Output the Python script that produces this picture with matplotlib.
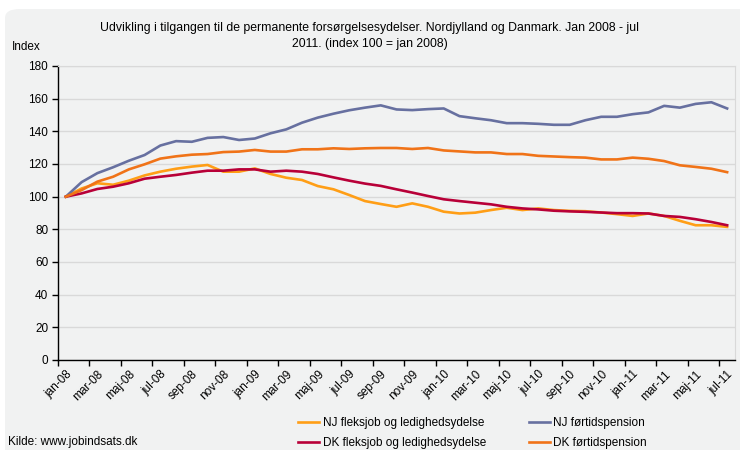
import matplotlib
matplotlib.use('Agg')
import matplotlib.pyplot as plt
from matplotlib.patches import FancyBboxPatch
import numpy as np

plt.rcParams['font.family'] = ['Liberation Sans', 'DejaVu Sans']

# Data: index 100 = jan 2008, monthly jan-08 .. jul-11
month_names = ["jan", "feb", "mar", "apr", "maj", "jun",
               "jul", "aug", "sep", "okt", "nov", "dec"]
years = ["08", "09", "10", "11"]
months = [f"{m}-{y}" for y in years for m in month_names][:43]

nj_flex = [100, 105, 108.2, 107.3, 109.8, 113, 115.3, 117.1, 118.4, 119.4,
           115.3, 115.3, 117.3, 113.9, 111.6, 110.2, 106.5, 104.5, 101, 97.3,
           95.5, 93.8, 95.9, 93.8, 90.8, 89.7, 90.2, 91.8, 93.2, 91.8,
           92.8, 91.8, 91.3, 91.1, 90.3, 89.3, 88.2, 89.7, 88.2, 85.2,
           82.5, 82.5, 81.5]
nj_fort = [100, 108.9, 114.4, 118, 122, 125.5, 131.3, 134, 133.6, 136,
           136.5, 134.7, 135.6, 138.8, 141.2, 145.3, 148.4, 150.8, 152.9, 154.5,
           155.9, 153.4, 153, 153.6, 154, 149.3, 148, 146.8, 145, 145,
           144.6, 144, 144, 146.8, 148.9, 148.9, 150.5, 151.6, 155.6, 154.5,
           156.8, 157.8, 154]
dk_flex = [100, 102, 104.7, 106.1, 108.2, 111, 112.2, 113.3, 114.7, 115.9,
           115.9, 116.7, 116.7, 115.3, 115.9, 115.3, 113.9, 111.8, 109.8, 108,
           106.6, 104.5, 102.5, 100.4, 98.4, 97.3, 96.3, 95.3, 93.8, 92.8,
           92.2, 91.4, 91, 90.7, 90.3, 89.9, 89.9, 89.7, 88.2, 87.6,
           86.2, 84.5, 82.5]
dk_fort = [100, 104, 109.2, 112.2, 116.7, 119.8, 123.3, 124.7, 125.7, 126.1,
           127.3, 127.6, 128.6, 127.6, 127.6, 129, 129, 129.6, 129.2, 129.6,
           129.8, 129.8, 129.2, 129.8, 128.3, 127.7, 127.1, 127.1, 126.1, 126.1,
           125, 124.6, 124.2, 123.9, 122.8, 122.8, 123.9, 123.2, 121.8, 119.2,
           118.2, 117.1, 115]

BG = '#F1F2F2'
C_NJ_FLEX = '#FF9E16'
C_NJ_FORT = '#6770A0'
C_DK_FLEX = '#B80038'
C_DK_FORT = '#F07318'

W, H = 740, 450
fig = plt.figure(figsize=(W / 100, H / 100), dpi=100)
fig.patch.set_facecolor('white')

# rounded grey panel behind everything
panel = FancyBboxPatch((5 / W, -30 / H), 760 / W, (441 + 30) / H,
                       boxstyle="round,pad=0,rounding_size=0.02",
                       transform=fig.transFigure, facecolor=BG,
                       edgecolor='none', zorder=-10)
fig.patches.append(panel)

ax = fig.add_axes([58 / W, 1 - 360 / H, (735 - 58) / W, (360 - 66) / H])
ax.set_facecolor(BG)

x = np.arange(len(months))
lw = 1.9
l1, = ax.plot(x, nj_flex, color=C_NJ_FLEX, lw=lw, zorder=3)
l2, = ax.plot(x, nj_fort, color=C_NJ_FORT, lw=lw, zorder=3)
l3, = ax.plot(x, dk_flex, color=C_DK_FLEX, lw=lw, zorder=3)
l4, = ax.plot(x, dk_fort, color=C_DK_FORT, lw=lw, zorder=3)

ax.set_xlim(-0.5, len(months) - 0.5)
ax.set_ylim(0, 180)
ax.set_yticks(np.arange(0, 181, 20))
ax.yaxis.grid(True, color='#D9D9D9', lw=1.0)
ax.set_axisbelow(True)

# tick marks at category boundaries, labels at category centres
ax.set_xticks(np.arange(-0.5, len(months), 2))
ax.set_xticklabels([])
ax.set_xticks(x[::2], minor=True)
ax.set_xticklabels(months[::2], minor=True, rotation=45, ha='right',
                   va='top', rotation_mode='anchor', fontsize=8.5)
ax.tick_params(axis='x', which='minor', length=0, pad=6)
ax.tick_params(axis='x', which='major', direction='out', length=4, width=1)
ax.tick_params(axis='y', direction='out', length=4, width=1, labelsize=8.5, pad=3)

for s in ['top', 'right']:
    ax.spines[s].set_color('#D9D9D9')
for s in ['left', 'bottom']:
    ax.spines[s].set_color('black')
    ax.spines[s].set_linewidth(1.0)

fig.text(370 / W, 1 - 36 / H,
         "Udvikling i tilgangen til de permanente forsørgelsesydelser. Nordjylland og Danmark. Jan 2008 - jul\n2011. (index 100 = jan 2008)",
         ha='center', va='center', fontsize=8.8, linespacing=1.45)
fig.text(12 / W, 1 - 47 / H, "Index", ha='left', va='center', fontsize=8.5)
fig.text(8 / W, 1 - 442 / H, "Kilde: www.jobindsats.dk", ha='left', va='center', fontsize=8.5)

# legend: row 1 NJ, row 2 DK (matplotlib fills column-wise)
fig.legend([l1, l3, l2, l4],
           ["NJ fleksjob og ledighedsydelse", "DK fleksjob og ledighedsydelse",
            "NJ førtidspension", "DK førtidspension"],
           ncol=2, loc='upper left',
           bbox_to_anchor=(298 / W, 1 - 417 / H), frameon=False,
           fontsize=8.5, handlelength=1.8, handletextpad=0.3,
           columnspacing=3.6, labelspacing=0.65, borderaxespad=0, borderpad=0)

fig.savefig("out.png", dpi=100, facecolor='white')
